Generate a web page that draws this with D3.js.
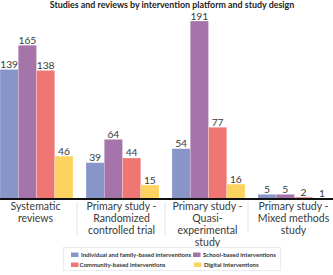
<!DOCTYPE html>
<html>
<head>
<meta charset="utf-8">
<script src="https://cdn.jsdelivr.net/npm/d3@7"></script>
<style>
  body { margin: 0; background: #fff; }
  svg text { font-family: Lato, "Open Sans", sans-serif; }
</style>
</head>
<body>
<div id="chart"></div>
<script>
// chart data
const designs = ["Systematic reviews", "Primary study - Randomized controlled trial", "Primary study - Quasi-experimental study", "Primary study - Mixed methods study"];
const designLines = [["Systematic", "reviews"], ["Primary study -", "Randomized", "controlled trial"], ["Primary study -", "Quasi-", "experimental", "study"], ["Primary study -", "Mixed methods", "study"]];
const platforms = ["Individual and family-based interventions", "School-based interventions", "Community-based interventions", "Digital Interventions"];
const individual = [139, 39, 54, 5];
const school = [165, 64, 191, 5];
const community = [138, 44, 77, 2];
const digital = [46, 15, 16, 1];
const colors = ["#8795c8", "#a574ab", "#ef7673", "#fdd35f"];

let width = 333, height = 275;
let baseline = 199;
let svg = d3.select('#chart').append('svg').attr('width', width).attr('height', height);

//Title
svg.append('text').attr('x', 172).attr('y', 8).attr('text-anchor', 'middle')
    .style('font-size', '8.9px').style('font-weight', 'bold').attr('fill', '#222')
    .text('Studies and reviews by intervention platform and study design');

let series = [individual, school, community, digital];
let table = designs.map((d, i) => ({design: d, values: series.map(s => s[i])}));

let x0 = d3.scaleBand().domain(designs).range([0, 331]).paddingInner(0.151).paddingOuter(0);
let x1 = d3.scaleBand().domain(platforms).range([0, x0.bandwidth()]);
let y = d3.scaleLinear().domain([0, 191]).range([baseline, 21]);

let groups = svg.selectAll('.grp').data(table).enter().append('g')
    .attr('class', 'grp')
    .attr('transform', d => 'translate(' + x0(d.design) + ',0)');

groups.selectAll('rect').data(d => d.values.map((v, j) => ({k: platforms[j], v: v, c: colors[j]})))
    .enter().append('rect')
    .attr('x', d => x1(d.k)).attr('width', x1.bandwidth())
    .attr('y', d => y(d.v)).attr('height', d => baseline - y(d.v))
    .attr('fill', d => d.c).attr('stroke', '#fff').attr('stroke-opacity', 0.4).attr('stroke-width', 0.6);

groups.selectAll('.val').data(d => d.values.map((v, j) => ({k: platforms[j], v: v})))
    .enter().append('text').attr('class', 'val')
    .attr('x', d => x1(d.k) + x1.bandwidth() / 2).attr('y', d => y(d.v) - 1.5)
    .attr('text-anchor', 'middle').style('font-size', '10.3px').attr('fill', '#3a3a3a')
    .text(d => d.v);

//Baseline axis
let xAxis = d3.axisBottom(x0).tickSize(0).tickFormat('');
svg.append('g').attr('transform', 'translate(0,' + baseline + ')').call(xAxis)
    .select('.domain').attr('d', 'M0,0H' + width).attr('stroke', '#111').attr('stroke-width', 2);

//Category separators
let seps = [77, 165, 248];
let sepBottoms = [235, 235, 233];
seps.forEach((s, i) => {
    svg.append('line').attr('x1', s).attr('x2', s).attr('y1', 202).attr('y2', sepBottoms[i])
        .attr('stroke', '#ddd').attr('stroke-width', 0.8);
});

//Category labels
designs.forEach((d, i) => {
    let t = svg.append('text').attr('text-anchor', 'middle').attr('fill', '#3a3a3a')
        .style('font-size', '10.5px');
    designLines[i].forEach((line, k) => {
        t.append('tspan').attr('x', x0(d) + x0.bandwidth() / 2 - 1).attr('y', 210 + k * 12).text(line);
    });
});

//Legend
let legend = svg.append('g');
legend.append('rect').attr('x', 63.5).attr('y', 247.5).attr('width', 217).attr('height', 23)
    .attr('fill', '#fff').attr('stroke', '#e3e6ef').attr('stroke-width', 0.8);
let legendPos = [[71, 255], [193, 255], [71, 265], [194, 265]];
platforms.forEach((p, i) => {
    let g = legend.append('g').attr('transform', 'translate(' + legendPos[i][0] + ',' + legendPos[i][1] + ')');
    g.append('rect').attr('x', 0).attr('y', -2.5).attr('width', 7.5).attr('height', 4.5).attr('fill', colors[i]);
    g.append('text').attr('x', i === 2 ? 8.5 : 10).attr('y', 1.9).style('font-size', '6px')
        .style('font-weight', 'bold').attr('fill', '#333').text(p);
});
</script>
</body>
</html>
